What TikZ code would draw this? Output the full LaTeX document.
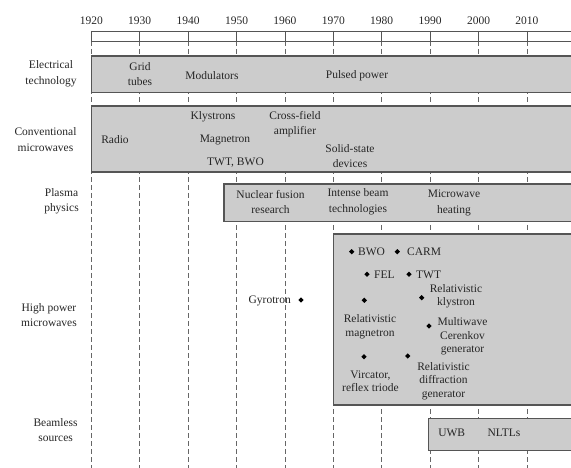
\documentclass[tikz,border=0pt]{standalone}
\usepackage{fontspec}
\setmainfont{Liberation Serif}
\usepackage{tikz}
\usetikzlibrary{shapes.geometric}
\definecolor{boxgray}{RGB}{204,204,204}
\definecolor{edgegray}{RGB}{85,85,85}
\tikzset{
  era/.style={fill=boxgray, draw=edgegray, line width=1.1pt},
  decade/.style={draw=black!60, line width=0.7pt, dash pattern=on 5pt off 3pt},
  lbl/.style={align=center, inner sep=0pt, text=black!85, font=\fontsize{11.5}{15.5}\selectfont},
  tight/.style={lbl, font=\fontsize{11.5}{13.5}\selectfont},
  gem/.style={diamond, fill=black, inner sep=0pt, minimum size=5.5pt},
}

\begin{document}
\begin{tikzpicture}[x=1pt,y=-1pt]
\useasboundingbox (0,0) rectangle (571,468);
% decades
\foreach \yr in {1920,1930,...,2010}{
  \pgfmathsetmacro{\xx}{91.3+4.84*(\yr-1920)}
  \draw[decade] (\xx,41) -- (\xx,468);
  \draw[edgegray, line width=0.8pt] (\xx,31) -- (\xx,41);
  \node[lbl] (y\yr) at (\xx,20.5) {\yr};
}
\draw[edgegray, line width=0.8pt] (91.3,31) -- (580,31);
\draw[edgegray, line width=0.8pt] (91.3,41) -- (580,41);
% bands
\draw[era] (91.3,56) rectangle (580,92.7);
\draw[era] (91.3,106) rectangle (580,172);
\draw[era] (224,184) rectangle (580,221.7);
\draw[era] (333.3,234) rectangle (580,405);
\draw[era] (428.7,418.3) rectangle (580,450.7);
% row labels
\node[lbl] (elec) at (51,74) {Electrical\\technology};
\node[lbl] (conv) at (45.5,139.5) {Conventional\\microwaves};
\node[lbl] (plasma) at (61.5,201.5) {Plasma\\physics};
\node[lbl] (hpm) at (49,315) {High power\\microwaves};
\node[lbl] (beamless) at (55.6,430) {Beamless\\sources};
% electrical technology
\node[lbl] (grid) at (140,74) {Grid\\tubes};
\node[lbl] (modul) at (212,75.7) {Modulators};
\node[lbl] (pulsed) at (357,75.5) {Pulsed power};
% conventional microwaves
\node[lbl] (radio) at (115,140) {Radio};
\node[lbl] (klys) at (213,116.7) {Klystrons};
\node[lbl] (magn) at (225,140) {Magnetron};
\node[lbl] (twtbwo) at (235.5,162.7) {TWT, BWO};
\node[lbl] (cfa) at (295,124) {Cross-field\\amplifier};
\node[lbl] (solid) at (350,156) {Solid-state\\devices};
% plasma physics
\node[lbl] (fusion) at (270.5,202) {Nuclear fusion\\research};
\node[lbl] (beam) at (358,202) {Intense beam\\technologies};
\node[lbl] (heat) at (454,202.7) {Microwave\\heating};
% high power microwaves
\node[gem] (dgyro) at (301,300) {};
\node[lbl, anchor=east] (gyro) at (291,300.5) {Gyrotron};
\node[gem] (dbwo) at (351.7,251.7) {};
\node[lbl, anchor=west] (bwo) at (358,252) {BWO};
\node[gem] (dcarm) at (397.3,251.7) {};
\node[lbl, anchor=west] (carm) at (407,252) {CARM};
\node[gem] (dfel) at (367,274.3) {};
\node[lbl, anchor=west] (fel) at (374,274.5) {FEL};
\node[gem] (dtwt) at (409,274.3) {};
\node[lbl, anchor=west] (twt) at (416,274.5) {TWT};
\node[gem] (drmag) at (364.3,300.3) {};
\node[tight] (rmag) at (370,327) {Relativistic\\magnetron};
\node[gem] (drkly) at (421.7,297.7) {};
\node[tight] (rkly) at (456,296.5) {Relativistic\\klystron};
\node[gem] (dmwc) at (429,326) {};
\node[tight] (mwc) at (462.5,336.5) {Multiwave\\Cerenkov\\generator};
\node[gem] (dvirc) at (364,356.7) {};
\node[tight] (virc) at (370.5,381) {Vircator,\\reflex triode};
\node[gem] (drdg) at (407.7,356) {};
\node[tight] (rdg) at (443.5,381) {Relativistic\\diffraction\\generator};
% beamless sources
\node[lbl] (uwb) at (451.7,433) {UWB};
\node[lbl] (nltl) at (504,433) {NLTLs};
\end{tikzpicture}
\end{document}
